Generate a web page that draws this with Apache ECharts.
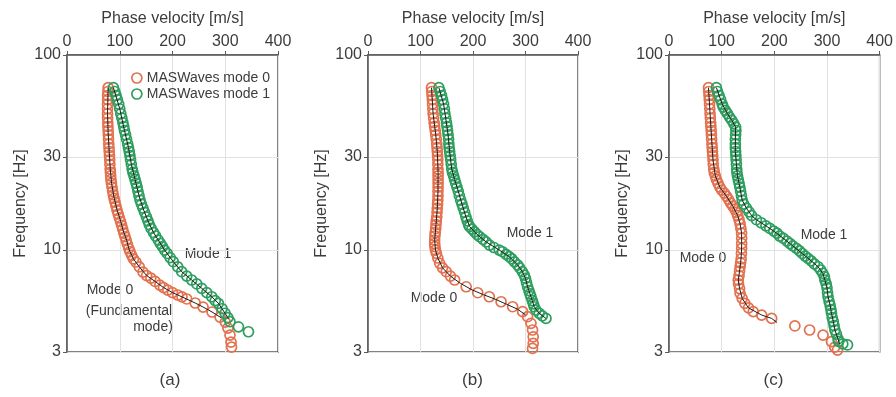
<!DOCTYPE html>
<html><head><meta charset="utf-8">
<script src="https://cdn.jsdelivr.net/npm/echarts@6/dist/echarts.min.js"></script>
<style>html,body{margin:0;padding:0;background:#fff}#c{width:896px;height:397px}</style>
</head><body><div id="c"></div>
<script>
// ---- data: [phase velocity m/s, frequency Hz] ----
const xTicks = [0, 100, 200, 300, 400];
const yTicks = [3, 10, 30, 100];
const panelLabels = ['(a)', '(b)', '(c)'];
const seriesNames = ['MASWaves mode 0', 'MASWaves mode 1'];

const a_mode0 = [[78,68],[77.5,65],[77,62],[77,59],[76.8,56],[76.8,53],[76.8,50],[77,47.5],[77.3,45],[77.6,43],[78,41],[78.3,39],[78.7,37],[79.2,35],[79.6,33.5],[80,32],[80.5,30.5],[81,29],[81.3,27.5],[81.8,26],[82.3,25],[82.8,24],[83.3,23],[84.2,22],[85.3,21],[86.5,20],[87.8,19.2],[89.3,18.4],[91,17.6],[92.8,16.8],[94.8,16],[97,15.3],[99.3,14.6],[101.5,14],[103.5,13.4],[105.5,12.8],[107.8,12.2],[110,11.7],[112.3,11.2],[114.5,10.7],[117,10.2],[119.5,9.8],[122.5,9.4],[126,9.0],[130.8,8.68],[137,8.2],[144,7.71],[151,7.4],[159,7.18],[167,6.9],[176,6.61],[183,6.42],[191,6.23],[200,6.05],[210,5.88],[218,5.75],[227,5.61],[243,5.35],[258,5.10],[275,4.81],[290,4.53],[300,4.27],[305,3.98],[309,3.66],[311,3.37],[312,3.18]];
const a_mode1 = [[88,68],[90.5,65],[93,62],[95.5,59],[98,56],[100,53],[102,50],[104,47.5],[106,45],[107.5,43],[109,41],[111,39],[112.8,37],[115,35],[116.5,33.5],[118,32],[119.3,30.5],[120.5,29],[122,27.5],[123.5,26],[125,25],[127,24],[129,23],[131,22],[133,21],[134.5,20],[136.5,19],[138.5,18],[141,17.2],[144,16.4],[147,15.6],[150.5,14.8],[153.5,14.1],[156,13.5],[159.5,12.9],[164,12.3],[168,11.8],[173,11.25],[177,10.8],[181,10.4],[185,10],[190,9.6],[195.5,9.15],[201.5,8.71],[210,8.2],[217.5,7.74],[227,7.35],[236.4,7.02],[246,6.7],[255.4,6.36],[265,6.05],[274.4,5.76],[281,5.5],[287,5.33],[294,5.0],[299.6,4.74],[305,4.5],[309,4.29],[325,4.04],[344,3.81]];
const a_theory0 = [[78,68],[76.8,50],[78,40],[80,32],[82,26],[84.5,22],[89,18.7],[95,16],[101,14.3],[106,12.7],[113,11.25],[118,10],[126,9.0],[137,8.2],[151,7.4],[167,6.9],[183,6.42],[200,6.05],[218,5.75],[243,5.35],[258,5.10],[275,4.81],[292,4.5]];
const a_theory1 = [[88,68],[100,53],[109,41],[116.5,33.5],[122,27.5],[129,23],[136.5,19],[144,16.4],[153.5,14.1],[164,12.3],[173,11.25],[185,10],[201.5,8.71],[217.5,7.74],[236.4,7.02],[255.4,6.36],[274.4,5.76],[287,5.33],[299.6,4.74],[306,4.45]];

const b_mode0 = [[121,68],[121.5,65],[122,62],[122.5,59],[123,56],[123.5,53],[124,50],[125,47.5],[126,45],[127,43],[128,41],[129,39],[130,37],[131,35],[131.5,33.5],[132,32],[132.5,30.5],[133,29],[133,27.5],[133.3,26],[133.5,25],[133.5,24],[133.5,23],[133.5,22],[133.5,21],[133.3,20],[133.3,19],[133,18],[132.5,17.2],[132,16.4],[131.5,15.6],[131,14.8],[130,14.1],[129.5,13.5],[129,12.9],[128,12.3],[127.5,11.8],[127,11.25],[127,10.8],[127.5,10.4],[128.5,10],[130.3,9.62],[133,9.1],[136.5,8.55],[142,8.1],[149,7.74],[157,7.35],[165,7.02],[187,6.48],[209,6.04],[231,5.76],[253.5,5.43],[275.5,5.12],[294.5,4.83],[304,4.55],[310.4,4.21],[313.4,3.89],[314.7,3.59],[314.7,3.32],[313.4,3.13]];
const b_mode1 = [[135,68],[137.5,65],[140,62],[142,59],[144,56],[145.5,53],[146.5,50],[148,47.5],[149.5,45],[150.5,43],[151.5,41],[152.5,39],[153.5,37],[154,35],[154.5,33.5],[155.5,32],[156.5,30.5],[157.5,29],[158.5,27.5],[159.5,26],[161,25],[163,24],[165,23],[167,22],[169.5,21],[172,20],[174,19],[176.5,18],[179,17.2],[181.5,16.4],[184,15.6],[186.5,14.8],[189,14.1],[191.5,13.5],[193.5,13.2],[198,12.8],[203,12.4],[208,12],[212.5,11.7],[219,11.35],[225,11],[231.5,10.6],[240,10.3],[250,10],[256,9.8],[263,9.5],[269,9.24],[274,9.0],[279,8.7],[285,8.38],[289,8.1],[294,7.75],[297.7,7.44],[300,7.15],[302,6.8],[304,6.48],[306.5,6.2],[308.5,5.96],[310.4,5.76],[313,5.5],[315,5.3],[316.6,5.12],[320,4.92],[326,4.74],[332,4.6],[339,4.46]];
const b_theory0 = [[121,68],[124,50],[129,39],[132,32],[133.5,25],[133.3,20],[132,16.4],[129.5,13.5],[127,11.25],[128.5,10],[133,9.1],[142,8.1],[157,7.35],[176,6.75],[198,6.25],[220,5.9],[242,5.6],[264,5.27],[285,4.97],[300,4.65]];
const b_theory1 = [[135,68],[144,56],[148,47.5],[152.5,39],[155.5,32],[159.5,26],[165,23],[172,20],[179,17.2],[186.5,14.8],[193.5,13.2],[208,12],[225,11],[250,10],[269,9.24],[285,8.38],[294,7.75],[300,7.15],[304,6.48],[308.5,5.96],[313,5.5],[316.6,5.12],[326,4.74],[339,4.46]];

const c_mode0 = [[75,68],[75.5,65],[76,62],[76.5,59],[77,56],[77.5,53],[78,50],[78.5,47.5],[79,45],[79.5,43],[80,41],[80.5,39],[81,37],[81.5,35],[82,33.5],[82.5,32],[83,30.5],[83.5,29],[84,27.5],[85,26],[86,25],[88,24],[90,23],[93,22],[96.5,21],[100,20.3],[105,19.6],[109,18.9],[113,18.2],[117,17.4],[121,16.8],[125,16.2],[128,15.6],[130.5,15],[133,14.3],[135,13.6],[136.5,12.9],[137.8,12.2],[138,11.5],[138,10.8],[138,10.2],[137.5,9.6],[137,9.0],[136,8.6],[135,8.21],[134,7.8],[133,7.4],[131.5,7.02],[132,6.7],[134,6.35],[135,6.0],[139,5.65],[144,5.33],[151,5.05],[160,4.83],[176,4.64],[195,4.46],[239,4.08],[267,3.89],[292.5,3.66],[308.5,3.39],[314.7,3.18],[320,3.07]];
const c_mode1 = [[90,68],[92,65],[95,62],[98,59],[101,56],[103,54],[107,52],[111,50],[115,48],[119,46.4],[123,44.5],[126.5,42.7],[127,41],[126.5,39],[126,37],[126,35],[126,33.5],[126.5,32],[127,30.5],[127.5,29],[128,27.5],[128.5,26],[129,25],[130,24],[131.5,23],[133,22],[134.5,21],[136,20],[137.5,19],[139,18],[142,17.2],[147,16.4],[152,15.7],[157,15],[166,14.3],[175,13.8],[184,13.3],[191.5,12.9],[199,12.5],[205,12.2],[210,11.8],[216.7,11.5],[224,11.1],[229.7,10.8],[235,10.5],[242,10.2],[248,9.9],[253,9.6],[258.5,9.3],[264,9.07],[270,8.8],[276,8.5],[283,8.21],[288,7.9],[292,7.6],[295,7.3],[296,7.02],[298.5,6.7],[300,6.4],[301,6.05],[302,5.76],[304,5.45],[306,5.2],[307.5,4.95],[308.5,4.74],[310,4.5],[312,4.3],[313.5,4.1],[315,3.89],[318,3.7],[321,3.5],[322,3.4],[330,3.3],[339,3.26]];
const c_theory0 = [[75,68],[78,50],[81,37],[83.5,29],[88,24],[96.5,21],[109,18.9],[121,16.8],[130.5,15],[135,13.6],[137.8,12.2],[138,10.8],[137.5,9.6],[136,8.6],[134,7.8],[131.5,7.02],[134,6.35],[139,5.65],[151,5.05],[176,4.64],[195,4.46],[205,4.25]];
const c_theory1 = [[90,68],[101,56],[111,50],[119,46.4],[126.5,42.7],[126,37],[126,32],[128,27.5],[130,24],[134.5,21],[139,18],[147,16.4],[157,15],[166,14.3],[184,13.3],[199,12.5],[216.7,11.5],[235,10.5],[253,9.6],[270,8.8],[283,8.21],[292,7.6],[296,7.02],[300,6.4],[302,5.76],[306,5.2],[308.5,4.74],[312,4.3],[315,3.89],[321,3.5],[324,3.3]];

const panels = [
  {m0: a_mode0, m1: a_mode1, t0: a_theory0, t1: a_theory1},
  {m0: b_mode0, m1: b_mode1, t0: b_theory0, t1: b_theory1},
  {m0: c_mode0, m1: c_mode1, t0: c_theory0, t1: c_theory1}
];

// ---- styling / layout ----
const FONT = '"Liberation Sans", Arial, sans-serif';
const TXT = '#3c3c3c';
const ORANGE = '#e2714f';
const GREEN = '#2e9e5f';
const gridLefts = [67, 368, 669];
const gridWidths = [211, 210, 211];

const grids = [], xAxes = [], yAxes = [], series = [];
panels.forEach((p, i) => {
  grids.push({left: gridLefts[i], top: 55, width: gridWidths[i], height: 297,
    show: true, borderColor: '#5a5a5a', borderWidth: 1.5, backgroundColor: 'rgba(0,0,0,0)'});
  xAxes.push({gridIndex: i, type: 'value', position: 'top', min: 0, max: 400, interval: 100,
    name: 'Phase velocity [m/s]', nameLocation: 'middle', nameGap: 28,
    nameTextStyle: {fontFamily: FONT, fontSize: 16, color: TXT},
    axisLine: {show: true, lineStyle: {color: '#5a5a5a', width: 1.5}},
    axisTick: {show: true, inside: false, length: 4, lineStyle: {color: '#5a5a5a'}},
    axisLabel: {fontFamily: FONT, fontSize: 16, color: TXT, margin: 5},
    splitLine: {show: true, lineStyle: {color: '#e2e2e2', width: 1}}});
  yAxes.push({gridIndex: i, type: 'log', logBase: 10, min: 3, max: 100,
    name: 'Frequency [Hz]', nameLocation: 'middle', nameGap: 38,
    nameTextStyle: {fontFamily: FONT, fontSize: 16, color: TXT},
    axisLine: {show: true, lineStyle: {color: '#5a5a5a', width: 1.5}},
    axisTick: {show: true, length: 4, customValues: yTicks, lineStyle: {color: '#5a5a5a'}},
    axisLabel: {fontFamily: FONT, fontSize: 16, color: TXT, margin: 6, customValues: yTicks},
    splitLine: {show: true, lineStyle: {color: '#e2e2e2', width: 1}}});
  [[p.m0, ORANGE, seriesNames[0]], [p.m1, GREEN, seriesNames[1]]].forEach(([d, col, nm]) => {
    series.push({type: 'scatter', name: nm, xAxisIndex: i, yAxisIndex: i, data: d,
      symbol: 'circle', symbolSize: 10, z: 2, silent: true,
      itemStyle: {color: 'rgba(0,0,0,0)', borderColor: col, borderWidth: 1.7, opacity: 1}});
  });
  [p.t0, p.t1].forEach(d => {
    series.push({type: 'line', xAxisIndex: i, yAxisIndex: i, data: d, showSymbol: false,
      symbol: 'none', smooth: false, z: 3, silent: true,
      lineStyle: {color: '#1e1e1e', width: 1}});
  });
});

const ann = (t, x, y) => ({type: 'text', x: x, y: y,
  style: {text: t, fill: TXT, font: '14px ' + FONT, align: 'center', verticalAlign: 'middle'}});
const graphics = [
  ann('Mode 1', 208, 254), ann('Mode 0', 110, 290), ann('(Fundamental', 129, 311), ann('mode)', 153, 327),
  ann('Mode 1', 530, 233), ann('Mode 0', 434, 298),
  ann('Mode 1', 824, 235), ann('Mode 0', 703, 258)
];
[170, 472.5, 773.5].forEach((x, i) => graphics.push({type: 'text', x: x, y: 380,
  style: {text: panelLabels[i], fill: TXT, font: '17px ' + FONT, align: 'center', verticalAlign: 'middle'}}));

const chart = echarts.init(document.getElementById('c'), null, {renderer: 'canvas'});
chart.setOption({
  animation: false,
  backgroundColor: '#fff',
  grid: grids, xAxis: xAxes, yAxis: yAxes, series: series,
  legend: {orient: 'vertical', left: 126, top: 66, itemWidth: 10, itemHeight: 10, itemGap: 2,
    textStyle: {fontFamily: FONT, fontSize: 14, color: TXT},
    data: [
      {name: seriesNames[0], icon: 'circle', itemStyle: {color: 'rgba(0,0,0,0)', borderColor: ORANGE, borderWidth: 1.7}},
      {name: seriesNames[1], icon: 'circle', itemStyle: {color: 'rgba(0,0,0,0)', borderColor: GREEN, borderWidth: 1.7}}
    ]},
  graphic: graphics
});
</script></body></html>
